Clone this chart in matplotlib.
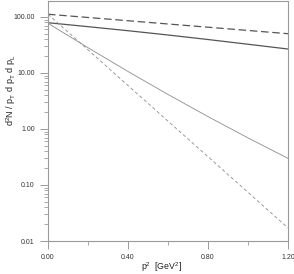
import numpy as np
import matplotlib
matplotlib.use("Agg")
import matplotlib.pyplot as plt
from matplotlib.ticker import FixedLocator, LogLocator, NullFormatter

plt.rcParams['font.family'] = ['Liberation Sans', 'DejaVu Sans']
plt.rcParams['mathtext.default'] = 'regular'

# p_T^2 sample points (GeV^2) and curve values
p2 = [0.0, 0.2, 0.4, 0.6, 0.8, 1.0, 1.2]

upper_dashed = [112.0, 98.0, 85.8, 75.0, 65.7, 57.5, 50.3]
upper_solid = [79.0, 67.2, 56.9, 47.7, 39.6, 32.6, 26.8]
lower_solid = [77.2, 28.3, 10.65, 4.14, 1.665, 0.694, 0.299]
lower_dashed = [112.0, 25.9, 5.98, 1.38, 0.32, 0.074, 0.0171]

x_ticks = [0.0, 0.4, 0.8, 1.2]
x_minor = [0.2, 0.6, 1.0]
y_ticks = [0.01, 0.1, 1.0, 10.0, 100.0]
y_labels = ["0.01", "0.10", "1.00", "10.00", "100.00"]

dark = "#555555"
light = "#8c8c8c"
axis_col = "#9a9a9a"

fig = plt.figure(figsize=(2.94, 2.74), dpi=100)
ax = fig.add_axes([48 / 294, 1 - 241 / 274, 240 / 294, 240 / 274])

ax.plot(p2, upper_dashed, color=dark, lw=0.9, dashes=(6, 3))
ax.plot(p2, upper_solid, color=dark, lw=0.9)
ax.plot(p2, lower_solid, color=light, lw=0.6)
ax.plot(p2, lower_dashed, color=light, lw=0.6, dashes=(4, 3))

ax.set_yscale("log")
ax.set_xlim(0.0, 1.2)
ax.set_ylim(0.01, 193)

ax.set_xticks(x_ticks)
ax.set_xticklabels([f"{t:.2f}" for t in x_ticks])
ax.xaxis.set_minor_locator(FixedLocator(x_minor))
ax.set_yticks(y_ticks)
ax.set_yticklabels(y_labels)
ax.yaxis.set_minor_locator(LogLocator(base=10, subs=np.arange(2, 10)))
ax.yaxis.set_minor_formatter(NullFormatter())

for s in ax.spines.values():
    s.set_color(axis_col)
    s.set_linewidth(0.8)

ax.tick_params(which="major", direction="out", length=5.5, width=0.7,
               color=axis_col, labelsize=5, labelcolor="#333333", pad=4)
ax.tick_params(which="minor", direction="out", length=2.8, width=0.6,
               color=axis_col)
ax.tick_params(axis="x", which="major", pad=4)

ax.set_xlabel("p$^2$  [GeV$^2$]", fontsize=6.3, color="#222222")
ax.xaxis.set_label_coords(0.475, -0.08)
ax.set_ylabel("d$^2$N / p$_T$ d p$_T$ d p$_L$", fontsize=6.5, color="#222222")
ax.yaxis.set_label_coords(-0.125, 0.63)

fig.savefig("out.png", dpi=100)
